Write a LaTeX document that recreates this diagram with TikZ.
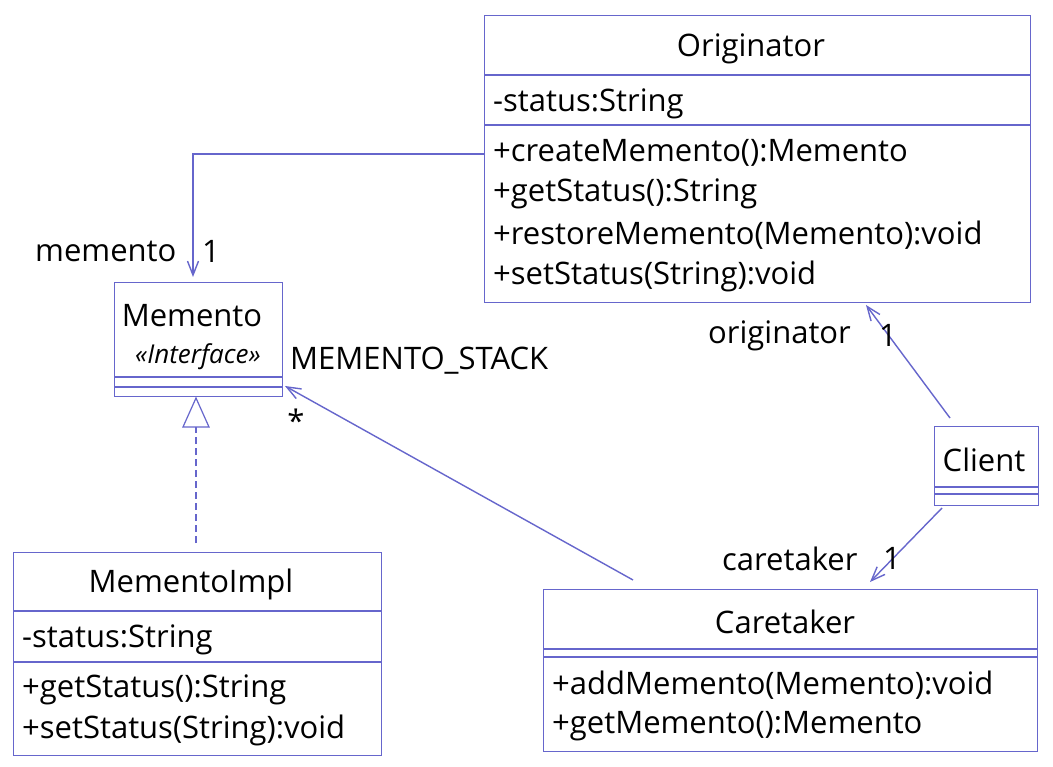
\documentclass[tikz,border=0pt]{standalone}
\usepackage{fontspec}
\setmainfont{Open Sans}
\usetikzlibrary{arrows.meta}
\definecolor{uml}{RGB}{102,102,204}
\tikzset{
  box/.style={draw=uml, line width=1.2pt, rectangle, inner sep=0pt, anchor=north west},
  sep/.style={draw=uml, line width=1.2pt},
  conn/.style={draw=uml, line width=1.4pt, -{Straight Barb[length=14pt,width=11pt,line width=1.4pt]}},
  real/.style={draw=uml, line width=1.4pt, dashed, dash pattern=on 7pt off 4pt},
  tri/.style={draw=uml, line width=1.2pt, fill=white},
  txt/.style={inner sep=0pt, anchor=west, yshift=-3.5pt, font=\fontsize{31}{34}\selectfont},
  ctxt/.style={inner sep=0pt, yshift=-3.5pt, font=\fontsize{31}{34}\selectfont},
  itxt/.style={inner sep=0pt, yshift=-2pt, font=\fontsize{26}{28}\selectfont\itshape},
}
\begin{document}
\begin{tikzpicture}[x=1pt,y=-1pt]
\useasboundingbox[fill=white] (0,0) rectangle (1053,767);
% Originator
\node[box, minimum width=546pt, minimum height=287pt] (orig) at (484,15) {};
\draw[sep] (484,75) -- (1030,75);
\draw[sep] (484,125) -- (1030,125);
\node[ctxt] (origname) at (751,45) {Originator};
\node[txt] (origa) at (493,100) {-status:String};
\node[txt] (origm1) at (493,149) {+createMemento():Memento};
\node[txt] (origm2) at (493,190) {+getStatus():String};
\node[txt] (origm3) at (493,232) {+restoreMemento(Memento):void};
\node[txt] (origm4) at (493,273) {+setStatus(String):void};
% Memento
\node[box, minimum width=168pt, minimum height=114pt] (mem) at (114,282) {};
\draw[sep] (114,377) -- (282,377);
\draw[sep] (114,387) -- (282,387);
\node[ctxt] (memname) at (192,312) {Memento};
\node[itxt] (memst) at (198,355) {«Interface»};
% MementoImpl
\node[box, minimum width=368pt, minimum height=203pt] (impl) at (13,552) {};
\draw[sep] (13,611) -- (381,611);
\draw[sep] (13,662) -- (381,662);
\node[ctxt] (implname) at (191,581) {MementoImpl};
\node[txt] (impla) at (22,636) {-status:String};
\node[txt] (implm1) at (22,686) {+getStatus():String};
\node[txt] (implm2) at (22,727) {+setStatus(String):void};
% Caretaker
\node[box, minimum width=494pt, minimum height=162pt] (care) at (543,589) {};
\draw[sep] (543,649) -- (1037,649);
\draw[sep] (543,657) -- (1037,657);
\node[ctxt] (carename) at (785,618) {Caretaker};
\node[txt] (carem1) at (552,682) {+addMemento(Memento):void};
\node[txt] (carem2) at (552,723) {+getMemento():Memento};
% Client
\node[box, minimum width=104pt, minimum height=79pt] (cli) at (934,426) {};
\draw[sep] (934,487) -- (1038,487);
\draw[sep] (934,494) -- (1038,494);
\node[ctxt] (cliname) at (984,456) {Client};
% connector anchors
\coordinate (oA) at (484,154);
\coordinate (mA) at (193,277);
\coordinate (iA) at (196,543);
\coordinate (iT) at (196,427);
\coordinate (cA) at (633,580);
\coordinate (mB) at (285,386);
\coordinate (clA) at (950,418);
\coordinate (oB) at (866,305);
\coordinate (clB) at (942,508);
\coordinate (cB) at (870,582);
% Originator -> Memento
\draw[conn] (oA) -| (mA);
\node[ctxt, anchor=west] (lmem) at (35,248) {memento};
\node[ctxt] (lmem1) at (211,248) {1};
% realization
\draw[real] (iA) -- (iT);
\draw[tri] (183,427) -- (196,398) -- (209,427) -- cycle;
% Caretaker -> Memento
\draw[conn] (cA) -- (mB);
\node[ctxt, anchor=west] (lstack) at (290,357) {MEMENTO\_STACK};
\node[ctxt] (lstar) at (296,417) {*};
% Client -> Originator
\draw[conn] (clA) -- (oB);
\node[ctxt, anchor=west] (lorig) at (708,332) {originator};
\node[ctxt] (lorig1) at (888,332) {1};
% Client -> Caretaker
\draw[conn] (clB) -- (cB);
\node[ctxt, anchor=west] (lcare) at (722,555) {caretaker};
\node[ctxt] (lcare1) at (892,555) {1};
\end{tikzpicture}
\end{document}
